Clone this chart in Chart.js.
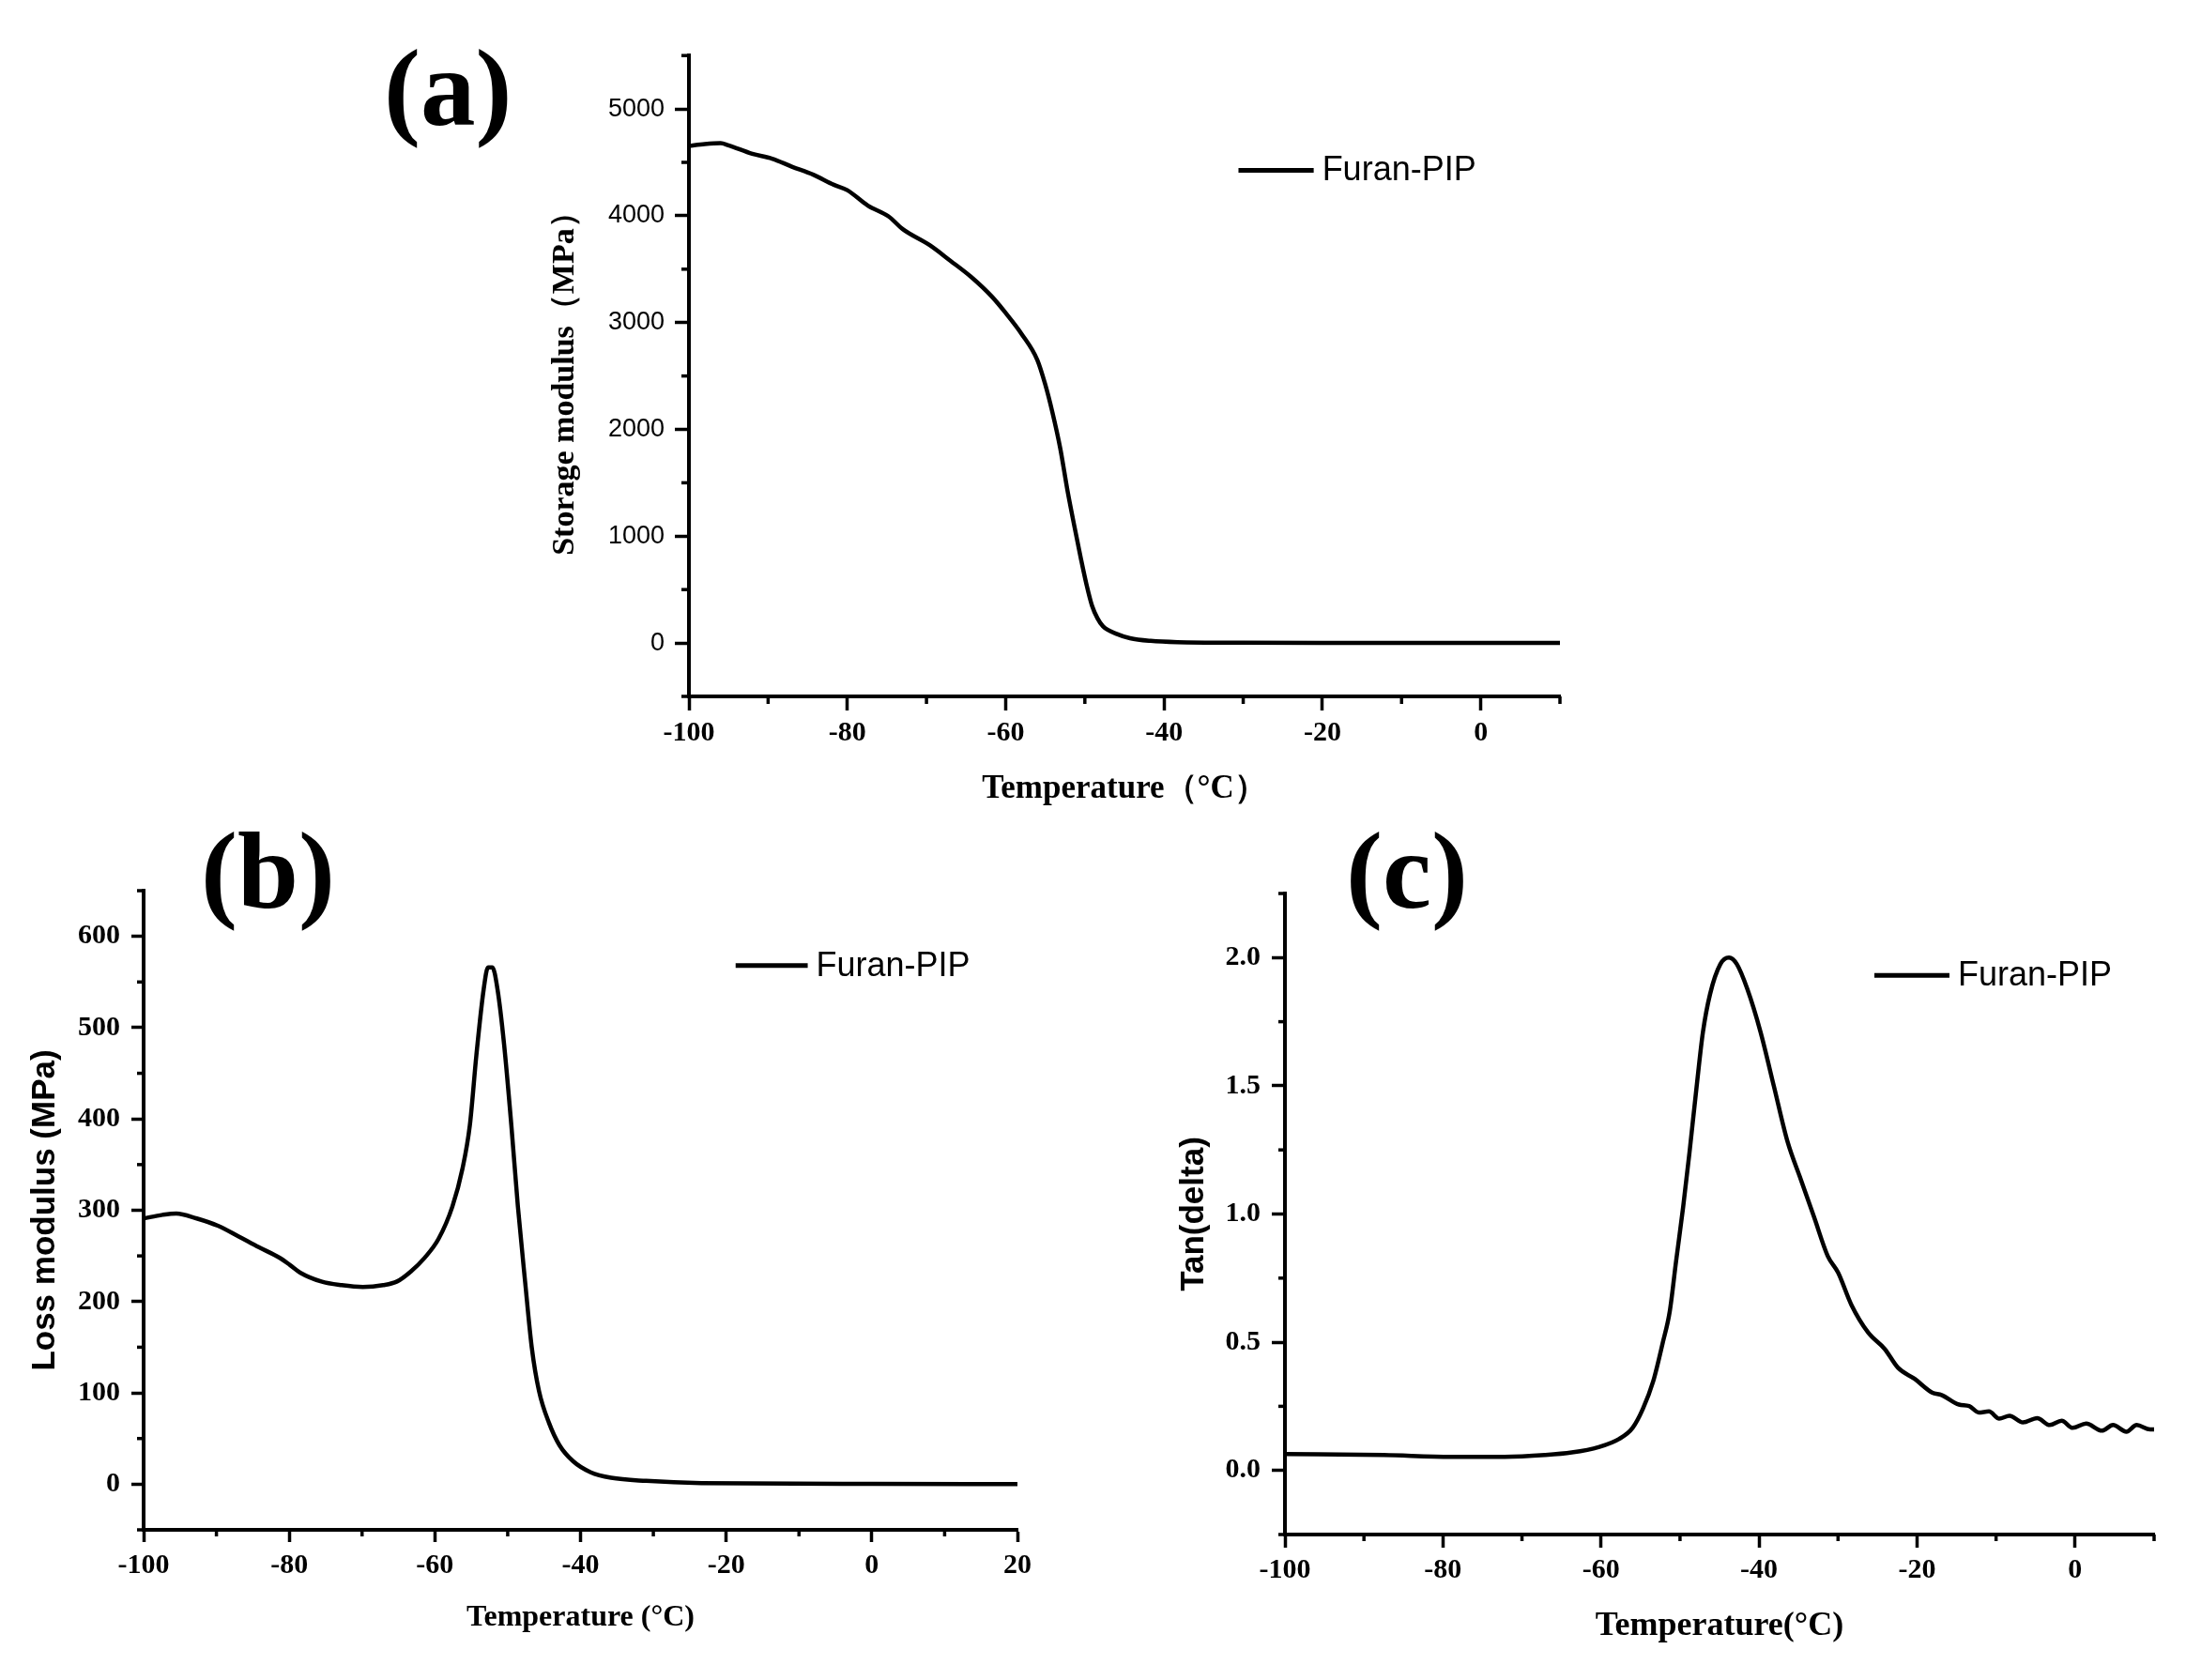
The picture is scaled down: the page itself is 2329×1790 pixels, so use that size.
<!DOCTYPE html>
<html>
<head>
<meta charset="utf-8">
<title>Furan-PIP DMA</title>
<script src="https://cdn.jsdelivr.net/npm/chart.js@4.4.1/dist/chart.umd.min.js"></script>
<style>
  html, body { margin: 0; padding: 0; background: #fff; width: 2329px; height: 1790px; overflow: hidden; }
  canvas { position: absolute; }
  .panel-tag {
    position: absolute;
    font-family: "Liberation Serif", "Times New Roman", serif;
    font-weight: bold;
    font-size: 117px;
    line-height: 1;
    color: #000;
  }
</style>
</head>
<body>
<div class="panel-tag" style="left:409px;top:35px">(a)</div>
<div class="panel-tag" style="left:214px;top:869px">(b)</div>
<div class="panel-tag" style="left:1434px;top:869px">(c)</div>

<canvas id="storageChart" width="1117" height="826" style="left:585px;top:32px"></canvas>
<canvas id="lossChart" width="1093" height="821" style="left:31px;top:919px"></canvas>
<canvas id="tanChart" width="1073" height="829" style="left:1255px;top:922px"></canvas>

<script>
// (a) Storage modulus vs temperature
const storageTemp = [-100, -98, -96, -95, -92, -89.5, -87, -84.3, -81.7, -80, -77.4, -74.8, -73, -69.6, -67,
    -64.4, -61.7, -60, -58, -56, -55, -54.1, -53.1, -52.2, -51.3, -50.5, -49.8, -49.1, -48.4, -47.7,
    -46, -44.3, -41.7, -38.3, -30, -20, 0, 10];
const storageModulus = [4655, 4672, 4680, 4660, 4580, 4535, 4460, 4385, 4290, 4240, 4095, 3995, 3875, 3725, 3580,
    3430, 3240, 3090, 2895, 2650, 2420, 2160, 1820, 1430, 1085, 790, 550, 350, 230, 155,
    85, 45, 20, 8, 3, 1, 0, 0];

// (b) Loss modulus vs temperature
const lossTemp = [-100, -97.4, -95.5, -92.7, -89.8, -87, -84.2, -81.3, -79.9, -78.5, -75.6, -72.8, -69.9, -67.1,
    -65.2, -63.3, -61.4, -59.5, -57.6, -56.2, -55.2, -54.3, -53.3, -52.7, -52.1, -51.4, -50.5, -49.5,
    -48.6, -47.6, -46.7, -45.7, -44.3, -42.9, -41, -38.6, -35.8, -31, -23.4, 0, 20];
const lossModulus = [291, 295, 296.5, 291, 283, 271.5, 259.6, 247.8, 240, 231.7, 222, 218, 216, 218,
    222, 233, 248, 268.6, 304, 346, 393, 470, 542, 566, 566, 542, 482, 393,
    304, 221, 150, 102, 66.5, 42.8, 25, 13, 7, 3.6, 1.2, 0.3, 0];

// (c) Tan(delta) vs temperature
const tanTemp = [-100, -87.5, -79, -72.2, -67.1, -63.7, -60.3, -57.7, -56, -54.7, -53.4, -52.2, -51.3, -50.5,
    -49.6, -48.8, -47.9, -47.1, -46.2, -44.9, -43.8, -42.8, -41.5, -39.8, -38.1, -36.4, -34.7, -33,
    -31.3, -30, -28.3, -26.2, -24.1, -22.4, -20.3, -18.1, -16.9, -14.7, -13.4, -12.2, -10.9, -9.6,
    -8.3, -6.6, -4.8, -3.2, -1.7, -0.3, 1.4, 3.4, 4.8, 6.5, 7.8, 9.5, 10];
const tanDelta = [0.064, 0.060, 0.053, 0.053, 0.060, 0.070, 0.091, 0.123, 0.166, 0.24, 0.347, 0.496, 0.62, 0.815,
    1.028, 1.24, 1.496, 1.709, 1.857, 1.974, 2.0, 1.974, 1.879, 1.709, 1.496, 1.283, 1.134, 0.985,
    0.836, 0.772, 0.645, 0.538, 0.474, 0.40, 0.357, 0.304, 0.294, 0.257, 0.251, 0.226, 0.23, 0.202,
    0.213, 0.187, 0.204, 0.177, 0.194, 0.166, 0.183, 0.155, 0.177, 0.151, 0.177, 0.16, 0.16];

// Labelled (major) tick values
const tempLabelsA = [-100, -80, -60, -40, -20, 0];
const tempLabelsB = [-100, -80, -60, -40, -20, 0, 20];
const tempLabelsC = [-100, -80, -60, -40, -20, 0];
const storageLabels = [0, 1000, 2000, 3000, 4000, 5000];
const lossLabels = [0, 100, 200, 300, 400, 500, 600];
const tanLabels = ['0.0', '0.5', '1.0', '1.5', '2.0'];

const SERIES_NAME = 'Furan-PIP';
const SERIF = '"Liberation Serif", "Times New Roman", serif';
const SANS = '"Liberation Sans", Arial, sans-serif';

/**
 * Short unlabelled ticks between the labelled ones
 */
const minorTicks = {
    id: 'minorTicks',
    afterDraw(chart, args, opts) {
        const ctx = chart.ctx;
        ctx.save();
        ctx.strokeStyle = '#000';
        ctx.lineWidth = opts.width;
        const xs = chart.scales.x;
        const ys = chart.scales.y;
        xs.ticks.forEach(t => {
            if (t.label !== '') return;
            const px = xs.getPixelForValue(t.value);
            ctx.beginPath();
            ctx.moveTo(px, xs.top);
            ctx.lineTo(px, xs.top + opts.length);
            ctx.stroke();
        });
        ys.ticks.forEach(t => {
            if (t.label !== '') return;
            const py = ys.getPixelForValue(t.value);
            ctx.beginPath();
            ctx.moveTo(ys.right, py);
            ctx.lineTo(ys.right - opts.length, py);
            ctx.stroke();
        });
        ctx.restore();
    }
};

/**
 * Line sample + series name, placed in data coordinates
 */
const seriesKey = {
    id: 'seriesKey',
    afterDatasetsDraw(chart, args, opts) {
        const ctx = chart.ctx;
        const xs = chart.scales.x;
        const ys = chart.scales.y;
        const x1 = xs.getPixelForValue(opts.from);
        const x2 = xs.getPixelForValue(opts.to);
        const yy = ys.getPixelForValue(opts.at);
        ctx.save();
        ctx.strokeStyle = '#000';
        ctx.lineWidth = 5;
        ctx.beginPath();
        ctx.moveTo(x1, yy);
        ctx.lineTo(x2, yy);
        ctx.stroke();
        ctx.fillStyle = '#000';
        ctx.font = '36px ' + SANS;
        ctx.textBaseline = 'middle';
        ctx.textAlign = 'left';
        ctx.fillText(chart.data.datasets[0].label, x2 + 9, yy + 1);
        ctx.restore();
    }
};

function makeDmaChart(id, p) {
    const ctx = document.getElementById(id);
    return new Chart(ctx, {
        type: 'line',
        data: {
            datasets: [{
                label: SERIES_NAME,
                data: p.temps.map((t, i) => ({ x: t, y: p.values[i] })),
                borderColor: '#000',
                borderWidth: 4.5,
                pointRadius: 0,
                fill: false,
                cubicInterpolationMode: 'monotone'
            }]
        },
        options: {
            responsive: false,
            animation: false,
            layout: { padding: { left: 0, top: p.padT, right: p.padR, bottom: 0 } },
            plugins: {
                legend: { display: false },
                tooltip: { enabled: false },
                minorTicks: { length: p.minorLen, width: 3.5 },
                seriesKey: p.key
            },
            scales: {
                x: {
                    type: 'linear',
                    min: p.xMin,
                    max: p.xMax,
                    afterFit: s => { s.height = p.padB; },
                    border: { display: true, color: '#000', width: 4 },
                    grid: {
                        display: true,
                        drawOnChartArea: false,
                        drawTicks: true,
                        tickLength: p.majorLen,
                        tickWidth: 3.5,
                        tickColor: c => (c.tick && p.xLabels.includes(c.tick.value)) ? '#000' : 'rgba(0,0,0,0)'
                    },
                    ticks: {
                        stepSize: 10,
                        autoSkip: false,
                        maxRotation: 0,
                        padding: p.xPad,
                        color: '#000',
                        font: { family: SERIF, size: 30, weight: 'bold' },
                        callback: v => p.xLabels.includes(v) ? String(v) : ''
                    },
                    title: {
                        display: true,
                        text: p.xTitle,
                        color: '#000',
                        padding: 0,
                        font: { family: SERIF, size: p.xTitleSize, weight: 'bold', lineHeight: 1 }
                    }
                },
                y: {
                    type: 'linear',
                    min: p.yMin,
                    max: p.yMax,
                    afterFit: s => { s.width = p.padL; },
                    border: { display: true, color: '#000', width: 4 },
                    grid: {
                        display: true,
                        drawOnChartArea: false,
                        drawTicks: true,
                        tickLength: p.majorLen,
                        tickWidth: 3.5,
                        tickColor: c => (c.tick && p.yFormat(c.tick.value) !== '') ? '#000' : 'rgba(0,0,0,0)'
                    },
                    ticks: {
                        stepSize: p.yStep,
                        autoSkip: false,
                        padding: p.yPad,
                        color: '#000',
                        font: p.yTickFont,
                        callback: v => p.yFormat(v)
                    },
                    title: {
                        display: true,
                        text: p.yTitle,
                        color: '#000',
                        padding: 0,
                        font: p.yTitleFont
                    }
                }
            }
        },
        plugins: [minorTicks, seriesKey]
    });
}

const storageChart = makeDmaChart('storageChart', {
    temps: storageTemp, values: storageModulus,
    xMin: -100, xMax: 10, xLabels: tempLabelsA,
    yMin: -500, yMax: 5500, yStep: 500,
    yFormat: v => storageLabels.includes(v) ? String(v) : '',
    padL: 149, padB: 116, padT: 20, padR: 40,
    majorLen: 15, minorLen: 8, xPad: 6, yPad: 11,
    yTickFont: { family: SANS, size: 27 },
    xTitle: 'Temperature（°C）', xTitleSize: 35,
    yTitle: 'Storage modulus（MPa）',
    yTitleFont: { family: SERIF, size: 34, weight: 'bold', lineHeight: 1 },
    key: { from: -30.6, to: -21.1, at: 4425 }
});

const lossChart = makeDmaChart('lossChart', {
    temps: lossTemp, values: lossModulus,
    xMin: -100, xMax: 20, xLabels: tempLabelsB,
    yMin: -50, yMax: 650, yStep: 50,
    yFormat: v => lossLabels.includes(v) ? String(v) : '',
    padL: 122, padB: 110, padT: 20, padR: 40,
    majorLen: 13, minorLen: 7, xPad: 7, yPad: 12,
    yTickFont: { family: SERIF, size: 30, weight: 'bold' },
    xTitle: 'Temperature (°C)', xTitleSize: 32,
    yTitle: 'Loss modulus (MPa)',
    yTitleFont: { family: SANS, size: 35, weight: 'bold', lineHeight: 1 },
    key: { from: -18.7, to: -8.8, at: 568 }
});

const tanChart = makeDmaChart('tanChart', {
    temps: tanTemp, values: tanDelta,
    xMin: -100, xMax: 10, xLabels: tempLabelsC,
    yMin: -0.25, yMax: 2.25, yStep: 0.25,
    yFormat: v => tanLabels.includes(v.toFixed(1)) && Math.abs(v * 2 - Math.round(v * 2)) < 1e-6 ? v.toFixed(1) : '',
    padL: 114, padB: 116, padT: 20, padR: 33,
    majorLen: 14, minorLen: 7, xPad: 6, yPad: 12,
    yTickFont: { family: SERIF, size: 30, weight: 'bold' },
    xTitle: 'Temperature(°C)', xTitleSize: 36,
    yTitle: 'Tan(delta)',
    yTitleFont: { family: SANS, size: 35, weight: 'bold', lineHeight: 1 },
    key: { from: -25.4, to: -15.9, at: 1.931 }
});
</script>
</body>
</html>
